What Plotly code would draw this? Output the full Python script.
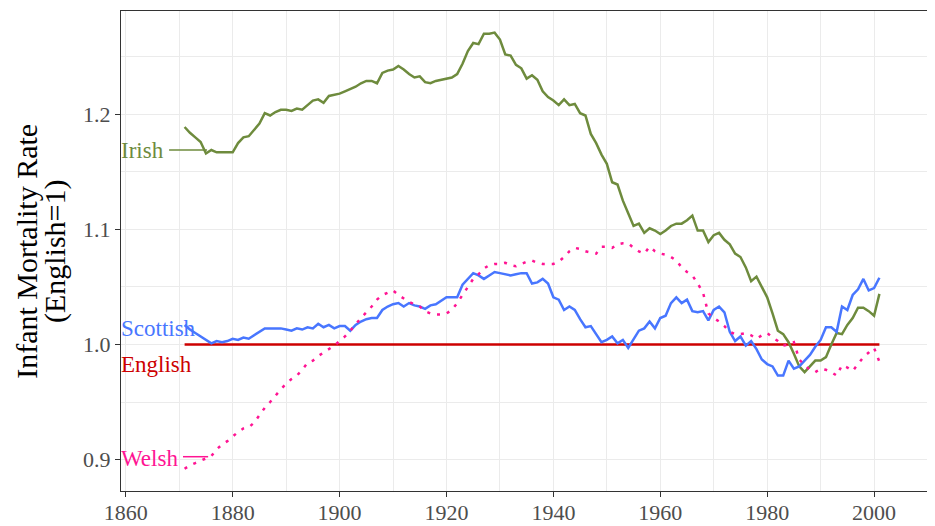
import plotly.graph_objects as go

years = list(range(1871, 2002))

irish = [1.189, 1.184, 1.180, 1.176, 1.166, 1.169, 1.167, 1.167, 1.167, 1.167,
         1.175, 1.180, 1.181, 1.187, 1.192, 1.201, 1.199, 1.202, 1.204, 1.204,
         1.203, 1.205, 1.204, 1.208, 1.212, 1.213, 1.210, 1.216, 1.217, 1.218,
         1.220, 1.222, 1.224, 1.227, 1.229, 1.229, 1.227, 1.236, 1.238, 1.239,
         1.242, 1.239, 1.235, 1.232, 1.233, 1.228, 1.227, 1.229, 1.230, 1.231,
         1.232, 1.235, 1.244, 1.255, 1.262, 1.261, 1.270, 1.270, 1.271, 1.265,
         1.252, 1.251, 1.243, 1.240, 1.231, 1.234, 1.230, 1.220, 1.215, 1.212,
         1.208, 1.213, 1.208, 1.209, 1.201, 1.199, 1.183, 1.175, 1.165, 1.157,
         1.141, 1.139, 1.125, 1.114, 1.103, 1.105, 1.097, 1.101, 1.099, 1.096,
         1.099, 1.103, 1.105, 1.105, 1.108, 1.112, 1.099, 1.099, 1.089, 1.095,
         1.097, 1.091, 1.087, 1.079, 1.076, 1.067, 1.055, 1.059, 1.050, 1.041,
         1.027, 1.012, 1.009, 1.002, 0.992, 0.981, 0.976, 0.981, 0.986, 0.986,
         0.989, 1.000, 1.010, 1.009, 1.017, 1.023, 1.032, 1.032, 1.029, 1.025,
         1.044]

scottish = [1.017, 1.013, 1.010, 1.007, 1.004, 1.001, 1.003, 1.002, 1.003, 1.005,
            1.004, 1.006, 1.005, 1.008, 1.011, 1.014, 1.014, 1.014, 1.014, 1.013,
            1.012, 1.014, 1.013, 1.015, 1.014, 1.018, 1.015, 1.017, 1.014, 1.016,
            1.016, 1.012, 1.017, 1.020, 1.022, 1.023, 1.023, 1.030, 1.033, 1.035,
            1.036, 1.033, 1.036, 1.034, 1.033, 1.031, 1.034, 1.035, 1.038, 1.041,
            1.041, 1.041, 1.052, 1.057, 1.062, 1.060, 1.057, 1.060, 1.063, 1.062,
            1.061, 1.060, 1.061, 1.062, 1.062, 1.053, 1.054, 1.057, 1.053, 1.041,
            1.039, 1.030, 1.033, 1.030, 1.022, 1.015, 1.016, 1.009, 1.002, 1.004,
            1.007, 1.001, 1.004, 0.997, 1.005, 1.012, 1.014, 1.020, 1.014, 1.023,
            1.025, 1.036, 1.041, 1.036, 1.039, 1.029, 1.028, 1.029, 1.021, 1.030,
            1.033, 1.028, 1.011, 1.003, 1.007, 0.999, 1.003, 0.996, 0.987, 0.983,
            0.981, 0.973, 0.973, 0.986, 0.979, 0.981, 0.986, 0.991, 0.998, 1.004,
            1.015, 1.015, 1.011, 1.033, 1.030, 1.043, 1.048, 1.057, 1.047, 1.049,
            1.058]

welsh = [0.892, 0.895, 0.897, 0.899, 0.901, 0.903, 0.909, 0.913, 0.916, 0.920,
         0.924, 0.927, 0.928, 0.932, 0.939, 0.945, 0.950, 0.956, 0.961, 0.966,
         0.970, 0.973, 0.978, 0.984, 0.986, 0.990, 0.993, 0.996, 0.999, 1.003,
         1.007, 1.012, 1.018, 1.023, 1.028, 1.033, 1.039, 1.043, 1.045, 1.047,
         1.043, 1.040, 1.037, 1.035, 1.033, 1.029, 1.027, 1.026, 1.026, 1.027,
         1.030, 1.036, 1.043, 1.051, 1.057, 1.061, 1.066, 1.069, 1.070, 1.070,
         1.071, 1.069, 1.068, 1.070, 1.072, 1.073, 1.071, 1.070, 1.070, 1.070,
         1.072, 1.076, 1.081, 1.084, 1.083, 1.081, 1.080, 1.079, 1.085, 1.085,
         1.084, 1.087, 1.088, 1.088, 1.084, 1.081, 1.079, 1.085, 1.081, 1.079,
         1.078, 1.076, 1.073, 1.067, 1.063, 1.060, 1.053, 1.045, 1.027, 1.023,
         1.020, 1.016, 1.011, 1.009, 1.009, 1.010, 1.008, 1.005, 1.008, 1.010,
         1.006, 1.003, 0.999, 1.000, 1.002, 0.987, 0.982, 0.978, 0.976, 0.979,
         0.978, 0.976, 0.973, 0.982, 0.980, 0.977, 0.983, 0.989, 0.993, 0.997,
         0.985]

english = [1.0] * len(years)

series_names = ["English", "Irish", "Scottish", "Welsh"]
series_colors = ["#CD0000", "#6E8B3D", "#4876FF", "#FF1493"]
series_dash = ["solid", "solid", "solid", "3px,7px"]
series_values = [english, irish, scottish, welsh]

# direct labels: y value of label centre
label_y = [0.983, 1.169, 1.014, 0.901]
# leader segments: (series index, x0, x1, y)
leaders = [(1, 1868.1, 1875.2, 1.169), (3, 1870.7, 1875.4, 0.9025)]

x_ticks = [1860, 1880, 1900, 1920, 1940, 1960, 1980, 2000]
y_ticks = [0.9, 1.0, 1.1, 1.2]
y_tick_text = ["0.9", "1.0", "1.1", "1.2"]

title_lines = ["Infant Mortality Rate", "(English=1)"]
title_x = [-0.1170, -0.0810]

FONT = "Liberation Serif"

fig = go.Figure()
for name, col, dash, vals in zip(series_names, series_colors, series_dash, series_values):
    fig.add_trace(go.Scatter(x=years, y=vals, mode="lines", name=name,
                             line=dict(color=col, width=2.5, dash=dash)))

for name, col, yv in zip(series_names, series_colors, label_y):
    fig.add_annotation(x=0, xref="paper", y=yv, yref="y", text=name,
                       showarrow=False, xanchor="left", yanchor="middle",
                       xshift=-2,
                       font=dict(family=FONT, size=23, color=col))

for idx, x0, x1, yv in leaders:
    fig.add_shape(type="line", x0=x0, x1=x1, y0=yv, y1=yv, xref="x", yref="y",
                  line=dict(color=series_colors[idx], width=1.5))

for txt, xp in zip(title_lines, title_x):
    fig.add_annotation(x=xp, xref="paper", y=0.5, yref="paper",
                       text=txt, textangle=-90,
                       showarrow=False, xanchor="center", yanchor="middle",
                       font=dict(family=FONT, size=30, color="black"))

grid = "#EBEBEB"
fig.update_xaxes(range=[1859.1, 2011.4], tickvals=x_ticks, ticktext=[str(v) for v in x_ticks],
                 showgrid=True, gridcolor=grid, gridwidth=1.3,
                 minor=dict(dtick=10, tick0=1860, showgrid=True, gridcolor=grid, gridwidth=1.3),
                 showline=True, linecolor="#333333", linewidth=1.2, mirror=True,
                 ticks="outside", ticklen=5, tickcolor="#333333", tickwidth=1.2,
                 tickfont=dict(family=FONT, size=22, color="#4D4D4D"), zeroline=False,
                 ticklabelstandoff=-4, automargin=False)
fig.update_yaxes(range=[0.8727, 1.2898], tickvals=y_ticks, ticktext=y_tick_text,
                 showgrid=True, gridcolor=grid, gridwidth=1.3,
                 minor=dict(dtick=0.05, tick0=0.85, showgrid=True, gridcolor=grid, gridwidth=1.3),
                 showline=True, linecolor="#333333", linewidth=1.2,
                 ticks="outside", ticklen=5, tickcolor="#333333", tickwidth=1.2,
                 tickfont=dict(family=FONT, size=22, color="#4D4D4D"), zeroline=False,
                 automargin=False)

# page body adds an 8px offset; margins compensate so the panel lands where it should
fig.update_layout(width=935, height=526, margin=dict(l=113, r=8, t=3, b=43),
                  plot_bgcolor="white", paper_bgcolor="white", showlegend=False)

fig.write_html("out.html")
